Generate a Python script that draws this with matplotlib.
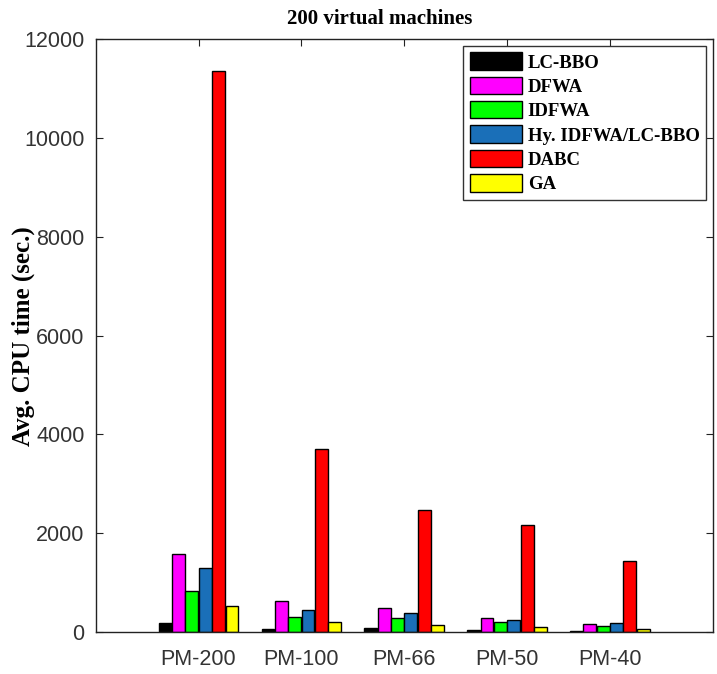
import numpy as np
import matplotlib
matplotlib.use("Agg")
import matplotlib.pyplot as plt

matplotlib.rcParams['font.family'] = 'sans-serif'
matplotlib.rcParams['font.sans-serif'] = ['Liberation Sans', 'DejaVu Sans']

# data
categories = ['PM-200', 'PM-100', 'PM-66', 'PM-50', 'PM-40']
series_names = ['LC-BBO', 'DFWA', 'IDFWA', 'Hy. IDFWA/LC-BBO', 'DABC', 'GA']
lc_bbo = [180, 70, 75, 35, 30]
dfwa = [1580, 630, 490, 280, 170]
idfwa = [830, 310, 280, 200, 130]
hy_idfwa = [1300, 450, 390, 240, 175]
dabc = [11350, 3700, 2480, 2170, 1430]
ga = [520, 200, 135, 95, 55]
y_ticks = [0, 2000, 4000, 6000, 8000, 10000, 12000]

colors = ['#000000', '#ff00ff', '#00ff00', '#1a6fb8', '#ff0000', '#ffff00']
all_series = [lc_bbo, dfwa, idfwa, hy_idfwa, dabc, ga]

serif = 'Liberation Serif'
tick_col = '#333333'

fig = plt.figure(figsize=(7.17, 6.74), dpi=100)
ax = fig.add_axes([0.1335, 0.0623, 0.8605, 0.8794])

x = np.arange(1, len(categories) + 1)
step = 0.13
bw = 0.125
for j, (vals, col, name) in enumerate(zip(all_series, colors, series_names)):
    ax.bar(x + (j - 2.5) * step, vals, width=bw, color=col,
           edgecolor='black', linewidth=1.0, label=name, zorder=2)

ax.set_xlim(0, 6)
ax.set_ylim(0, 12000)
ax.set_xticks(x)
ax.set_xticklabels(categories)
ax.set_yticks(y_ticks)
ax.set_yticklabels([str(v) for v in y_ticks])
ax.tick_params(direction='in', top=True, right=True, length=5, width=0.8,
               labelsize=15.5, labelcolor=tick_col, colors='#222222')
ax.tick_params(axis='x', pad=12)
ax.tick_params(axis='y', pad=8)
for sp in ax.spines.values():
    sp.set_linewidth(1.0)
    sp.set_color('#222222')

ax.set_title('200 virtual machines', fontfamily=serif, fontweight='bold',
             fontsize=15, pad=11, x=0.461)
ax.set_ylabel('Avg. CPU time (sec.)', fontfamily=serif, fontweight='bold',
              fontsize=18)
ax.yaxis.set_label_coords(-0.098, 0.5)

leg = ax.legend(loc='upper right', prop={'family': serif, 'weight': 'bold', 'size': 13.5},
                frameon=True, fancybox=False, framealpha=1, edgecolor='#333333',
                handlelength=2.8, handleheight=1.05, labelspacing=0.28,
                handletextpad=0.3, borderpad=0.35, borderaxespad=0.35)
leg.get_frame().set_linewidth(1.0)

fig.savefig('out.png', dpi=100)
